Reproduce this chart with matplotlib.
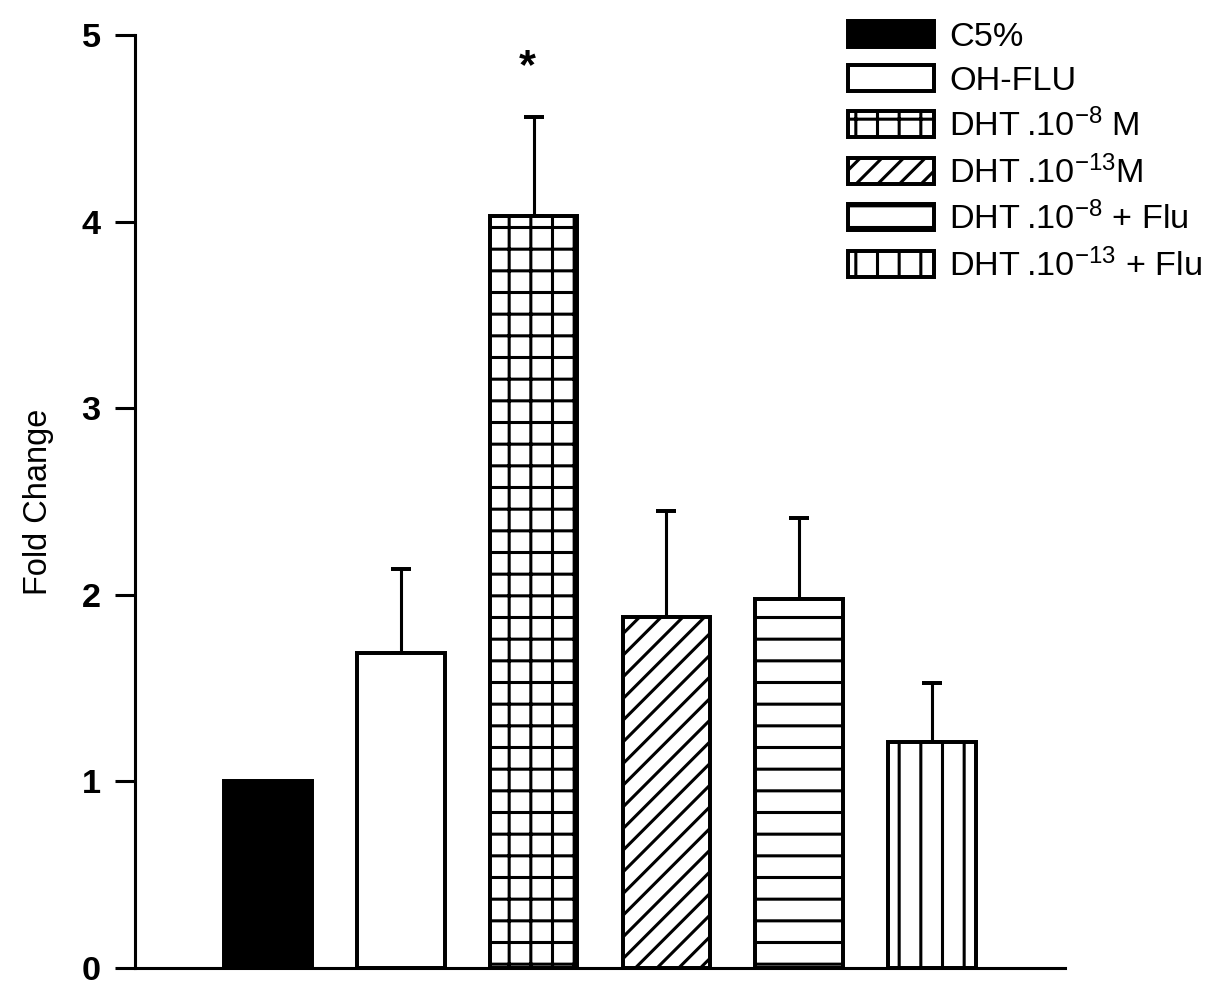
import matplotlib
matplotlib.use('Agg')
import matplotlib.pyplot as plt
import numpy as np

plt.rcParams['font.family'] = ['Liberation Sans', 'DejaVu Sans']
plt.rcParams['mathtext.fontset'] = 'custom'
plt.rcParams['mathtext.rm'] = 'Liberation Sans'
plt.rcParams['mathtext.it'] = 'Liberation Sans'
plt.rcParams['hatch.linewidth'] = 1.7
plt.rcParams['hatch.color'] = 'black'

labels = ['C5%', 'OH-FLU', 'DHT\u2009.10$^{-8}$ M', 'DHT\u2009.10$^{-13}$M',
          'DHT\u2009.10$^{-8}$ + Flu', 'DHT\u2009.10$^{-13}$ + Flu']
values = [1.0, 1.69, 4.03, 1.88, 1.98, 1.21]
errors = [0.0, 0.45, 0.53, 0.57, 0.43, 0.32]
fills = ['black', 'white', 'white', 'white', 'white', 'white']
hatches = [None, None, '+', '//', '-', '|']
y_ticks = [0, 1, 2, 3, 4, 5]

DPI = 130
fig = plt.figure(figsize=(1217 / DPI, 997 / DPI), dpi=DPI)
ax = fig.add_axes([135 / 1217, 1 - 968 / 997, 930 / 1217, 933 / 997])

x = np.arange(len(values))
handles = []
for i in range(len(values)):
    b = ax.bar(x[i], values[i], width=0.66, color=fills[i], edgecolor='black',
               linewidth=2.2, hatch=hatches[i], label=labels[i], zorder=2)
    handles.append(b)
    if errors[i] > 0:
        ax.errorbar(x[i], values[i], yerr=[[0], [errors[i]]], fmt='none',
                    ecolor='black', elinewidth=1.7, capsize=5.5, capthick=2.2,
                    zorder=1)

ax.text(x[2] - 0.05, 4.83, '*', ha='center', va='center', fontsize=24,
        fontweight='bold')

ax.set_xlim(-1, 6)
ax.set_ylim(0, 5)
ax.set_yticks(y_ticks)
ax.set_xticks([])
for lbl in ax.get_yticklabels():
    lbl.set_fontweight('bold')
ax.tick_params(axis='y', direction='out', length=11, width=1.7, labelsize=19,
               pad=8)
ax.spines['top'].set_visible(False)
ax.spines['right'].set_visible(False)
ax.spines['left'].set_linewidth(1.7)
ax.spines['bottom'].set_linewidth(1.7)

ax.set_ylabel('Fold Change', fontsize=18)
ax.yaxis.set_label_coords(-0.087, 0.5)

fig.legend(handles=handles, loc='upper left',
           bbox_to_anchor=(848 / 1217, 1 - 21 / 997), frameon=False,
           fontsize=19, handlelength=2.5, handleheight=0.78,
           labelspacing=0.35, handletextpad=0.45, borderaxespad=0,
           borderpad=0)

fig.savefig('out.png', dpi=DPI)
